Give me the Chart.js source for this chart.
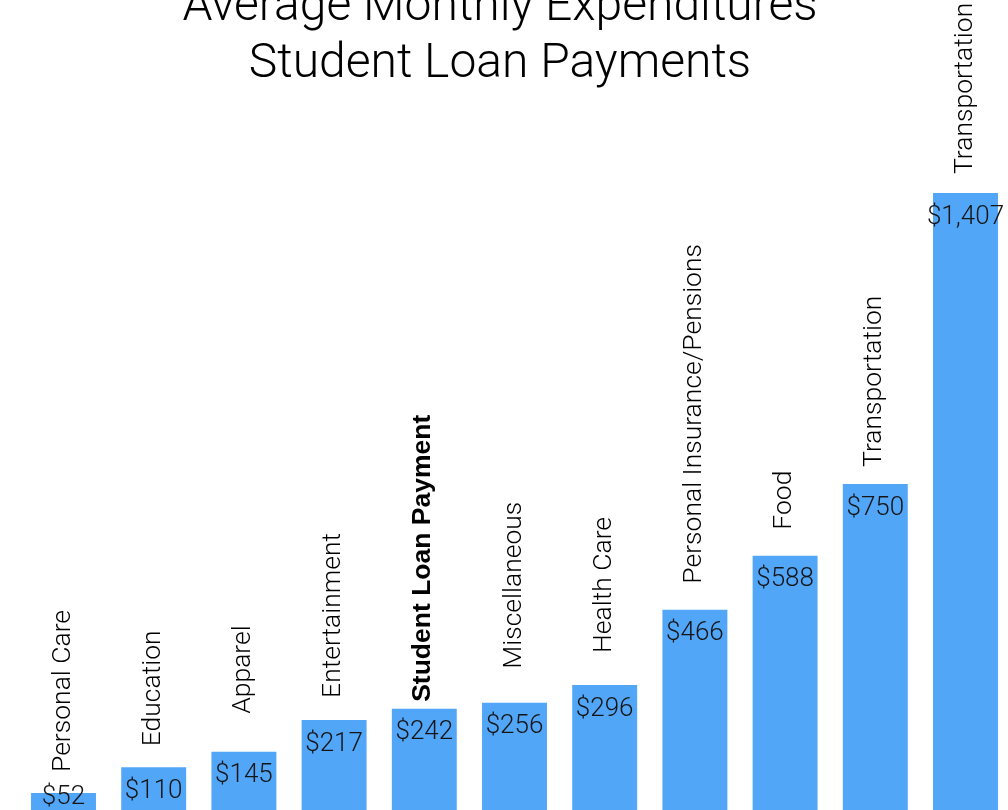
<!DOCTYPE html>
<html>
<head>
<meta charset="utf-8">
<title>Average Monthly Expenditures</title>
<script src="https://cdn.jsdelivr.net/npm/chart.js@4.4.1/dist/chart.umd.min.js"></script>
<style>
  html, body { margin: 0; padding: 0; background: #ffffff; overflow: hidden; }
  #wrap { position: relative; width: 1030px; height: 816px; }
  canvas { display: block; }
</style>
</head>
<body>
<div id="wrap"><canvas id="chart" width="1030" height="816"></canvas></div>
<script>
// Expenditure categories, ordered from smallest to largest
const categories = [
  'Personal Care', 'Education', 'Apparel', 'Entertainment',
  'Student Loan Payment', 'Miscellaneous', 'Health Care',
  'Personal Insurance/Pensions', 'Food', 'Transportation', 'Transportation'
];
// Average monthly spend per category, US dollars
const monthlySpend = [52, 110, 145, 217, 242, 256, 296, 466, 588, 750, 1407];
// Two-line heading
const titleLines = ['Average Monthly Expenditures', 'Student Loan Payments'];
// Category drawn in bold
const highlighted = 'Student Loan Payment';

// Space between each bar top and the end of its upright name (px)
const nameGap = [21, 21, 38, 22, 7, 34, 32, 26, 26, 17, 19];

const FONT = 'Roboto, "Liberation Sans", sans-serif';
const BOLD_FONT = '"Liberation Sans", Arial, sans-serif';
const BAR_BLUE = '#51a6f8';

const money = v => '$' + v.toLocaleString('en-US');

// Draws the heading, the category names above the bars and the values inside them
const barText = {
  id: 'barText',
  afterDatasetsDraw(chart) {
    const ctx = chart.ctx;
    const meta = chart.getDatasetMeta(0);
    ctx.save();
    meta.data.forEach((bar, i) => {
      const props = bar.getProps(['x', 'y', 'base'], true);
      const value = chart.data.datasets[0].data[i];

      // value inside the top of the bar
      ctx.font = '300 26px ' + FONT;
      ctx.fillStyle = '#151515';
      ctx.textAlign = 'center';
      ctx.textBaseline = 'alphabetic';
      const mid = Math.min(props.y + 21.3, props.base - 21.3);
      ctx.fillText(money(value), props.x, mid + 9.3);

      // category name, reading upward from above the bar
      const name = chart.data.labels[i];
      ctx.save();
      ctx.translate(props.x + 6, props.y - nameGap[i]);
      ctx.rotate(-Math.PI / 2);
      ctx.font = name === highlighted ? 'bold 26.5px ' + BOLD_FONT : '300 26.5px ' + FONT;
      ctx.fillStyle = '#000000';
      ctx.textAlign = 'left';
      ctx.textBaseline = 'alphabetic';
      ctx.fillText(name, 0, 0);
      ctx.restore();
    });

    // heading
    ctx.font = '300 48px ' + FONT;
    ctx.fillStyle = '#000000';
    ctx.textAlign = 'center';
    ctx.textBaseline = 'alphabetic';
    ctx.fillText(titleLines[0], 500, 20);
    ctx.fillText(titleLines[1], 500, 77);
    ctx.restore();
  }
};

new Chart(document.getElementById('chart'), {
  type: 'bar',
  data: {
    labels: categories,
    datasets: [{
      data: monthlySpend,
      backgroundColor: BAR_BLUE,
      borderWidth: 0,
      categoryPercentage: 1,
      barPercentage: 0.72
    }]
  },
  options: {
    responsive: false,
    animation: false,
    layout: { padding: { left: 18.4, right: 19.4, top: 0, bottom: 0 } },
    plugins: {
      legend: { display: false },
      title: { display: false },
      tooltip: { enabled: false }
    },
    scales: {
      x: { display: false, grid: { display: false } },
      y: { display: false, min: 0, max: 1843, grid: { display: false } }
    }
  },
  plugins: [barText]
});
</script>
</body>
</html>
